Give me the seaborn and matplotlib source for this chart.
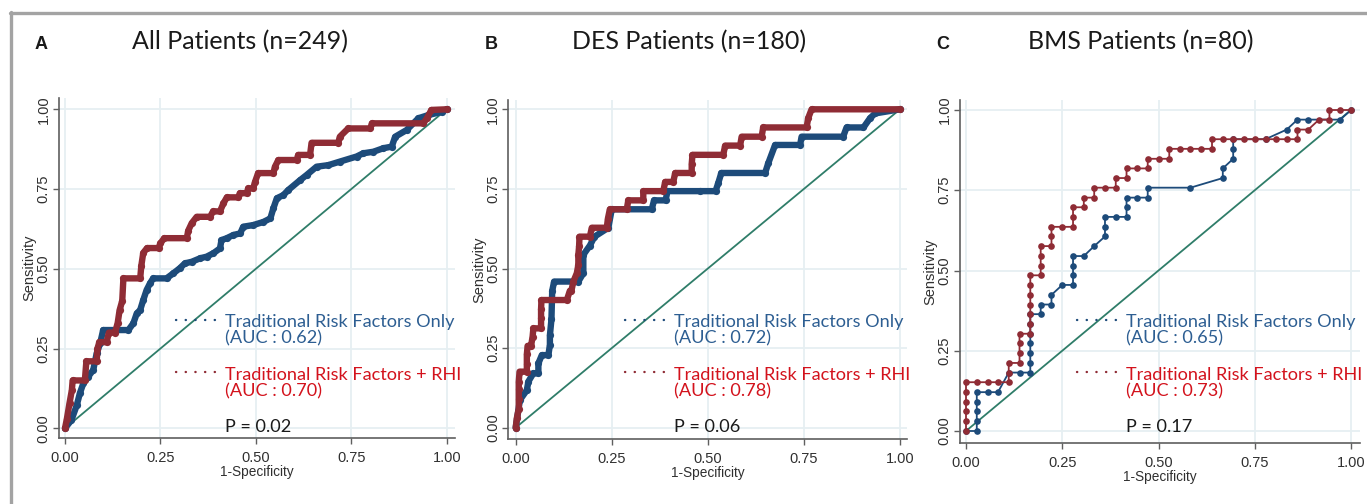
import matplotlib
matplotlib.use("Agg")
import matplotlib.pyplot as plt
import seaborn as sns
from matplotlib.lines import Line2D
from matplotlib.transforms import Bbox, TransformedBbox

# ---------------- data ----------------
panel_letters = ["A", "B", "C"]
panel_titles = ["All Patients (n=249)", "DES Patients (n=180)", "BMS Patients (n=80)"]
series_labels = ["Traditional Risk Factors Only", "Traditional Risk Factors + RHI"]
auc_trad = ["0.62", "0.72", "0.65"]
auc_rhi = ["0.70", "0.78", "0.73"]
p_values = ["0.02", "0.06", "0.17"]
tick_values = [0, 0.25, 0.5, 0.75, 1.0]
tick_labels = ["0.00", "0.25", "0.50", "0.75", "1.00"]
x_label = "1-Specificity"
y_label = "Sensitivity"
diag = [0, 1]

# Panel A: All patients
a_trad_x = [0, 0.017, 0.031, 0.039, 0.048, 0.061, 0.074, 0.083, 0.092, 0.1, 0.166, 0.179, 0.188, 0.197,
            0.205, 0.214, 0.223, 0.231, 0.266, 0.284, 0.301, 0.314, 0.332, 0.354, 0.371, 0.389, 0.406,
            0.41, 0.424, 0.441, 0.459, 0.467, 0.493, 0.52, 0.538, 0.546, 0.555, 0.572, 0.585, 0.616,
            0.633, 0.659, 0.69, 0.72, 0.764, 0.781, 0.808, 0.834, 0.856, 0.865, 0.895, 0.926, 0.952,
            0.987, 1.0]
a_trad_y = [0, 0.026, 0.073, 0.11, 0.141, 0.162, 0.183, 0.235, 0.266, 0.308, 0.308, 0.329, 0.36, 0.371,
            0.402, 0.434, 0.455, 0.47, 0.47, 0.486, 0.502, 0.517, 0.522, 0.533, 0.538, 0.549, 0.564,
            0.59, 0.596, 0.606, 0.611, 0.632, 0.637, 0.647, 0.658, 0.69, 0.721, 0.731, 0.747, 0.778,
            0.794, 0.82, 0.825, 0.836, 0.852, 0.862, 0.867, 0.878, 0.883, 0.914, 0.935, 0.972, 0.982,
            0.992, 1.0]
a_rhi_x = [0, 0.005, 0.012, 0.018, 0.02, 0.052, 0.056, 0.083, 0.085, 0.09, 0.109, 0.115, 0.131, 0.138,
           0.143, 0.15, 0.153, 0.197, 0.2, 0.205, 0.215, 0.245, 0.25, 0.26, 0.319, 0.323, 0.332, 0.345,
           0.38, 0.388, 0.406, 0.415, 0.424, 0.454, 0.458, 0.476, 0.48, 0.493, 0.498, 0.506, 0.546, 0.55,
           0.559, 0.607, 0.611, 0.642, 0.646, 0.716, 0.72, 0.742, 0.8, 0.804, 0.939, 0.948, 0.96, 1.0]
a_rhi_y = [0, 0.03, 0.08, 0.12, 0.15, 0.15, 0.21, 0.21, 0.25, 0.27, 0.27, 0.30, 0.30, 0.33, 0.37, 0.40,
           0.47, 0.47, 0.51, 0.55, 0.565, 0.565, 0.58, 0.596, 0.596, 0.62, 0.643, 0.663, 0.663, 0.68,
           0.68, 0.705, 0.724, 0.724, 0.737, 0.737, 0.752, 0.752, 0.773, 0.80, 0.80, 0.82, 0.841, 0.841,
           0.857, 0.857, 0.895, 0.895, 0.914, 0.94, 0.94, 0.956, 0.956, 0.972, 0.998, 1.0]

# Panel B: DES patients
b_trad_x = [0, 0.011, 0.029, 0.033, 0.046, 0.059, 0.059, 0.068, 0.085, 0.089, 0.089, 0.093, 0.095, 0.1,
            0.163, 0.176, 0.176, 0.193, 0.205, 0.241, 0.25, 0.354, 0.36, 0.39, 0.395, 0.48, 0.52, 0.527,
            0.535, 0.649, 0.657, 0.675, 0.74, 0.744, 0.852, 0.861, 0.905, 0.922, 0.935, 1.0]
b_trad_y = [0, 0.087, 0.118, 0.145, 0.171, 0.171, 0.202, 0.228, 0.228, 0.26, 0.29, 0.34, 0.43, 0.459,
            0.459, 0.485, 0.543, 0.572, 0.6, 0.628, 0.686, 0.686, 0.714, 0.714, 0.743, 0.743, 0.743,
            0.768, 0.8, 0.8, 0.83, 0.888, 0.888, 0.914, 0.914, 0.943, 0.943, 0.972, 0.987, 1.0]
b_rhi_x = [0, 0.003, 0.008, 0.008, 0.008, 0.008, 0.01, 0.029, 0.029, 0.029, 0.031, 0.04, 0.044, 0.046,
           0.066, 0.066, 0.066, 0.067, 0.133, 0.141, 0.145, 0.15, 0.159, 0.163, 0.163, 0.165, 0.166,
           0.193, 0.198, 0.237, 0.24, 0.245, 0.289, 0.293, 0.332, 0.332, 0.384, 0.389, 0.41, 0.415,
           0.458, 0.458, 0.46, 0.54, 0.545, 0.584, 0.588, 0.64, 0.644, 0.757, 0.761, 0.77, 1.0]
b_rhi_y = [0, 0.03, 0.06, 0.09, 0.12, 0.145, 0.176, 0.176, 0.2, 0.23, 0.257, 0.257, 0.286, 0.312,
           0.312, 0.343, 0.372, 0.401, 0.401, 0.43, 0.43, 0.459, 0.485, 0.511, 0.543, 0.57, 0.6,
           0.6, 0.628, 0.628, 0.657, 0.686, 0.686, 0.714, 0.714, 0.743, 0.743, 0.772, 0.772, 0.8,
           0.8, 0.828, 0.857, 0.857, 0.886, 0.886, 0.914, 0.914, 0.943, 0.943, 0.972, 1.0, 1.0]

# Panel C: BMS patients
c_trad_x = [0, 0.028, 0.028, 0.028, 0.028, 0.028, 0.056, 0.083, 0.111, 0.139, 0.167, 0.167, 0.167, 0.167,
            0.167, 0.167, 0.167, 0.194, 0.194, 0.222, 0.222, 0.25, 0.278, 0.278, 0.278, 0.278, 0.306,
            0.333, 0.361, 0.361, 0.361, 0.389, 0.417, 0.417, 0.417, 0.444, 0.472, 0.472, 0.583, 0.667,
            0.667, 0.694, 0.694, 0.694, 0.778, 0.833, 0.861, 0.889, 0.972, 1.0]
c_trad_y = [0, 0, 0.03, 0.061, 0.091, 0.121, 0.121, 0.121, 0.182, 0.182, 0.182, 0.212, 0.242, 0.273,
            0.303, 0.333, 0.364, 0.364, 0.394, 0.394, 0.424, 0.455, 0.455, 0.485, 0.515, 0.545, 0.545,
            0.576, 0.606, 0.636, 0.667, 0.667, 0.667, 0.697, 0.727, 0.727, 0.727, 0.758, 0.758, 0.788,
            0.818, 0.848, 0.879, 0.909, 0.909, 0.939, 0.97, 0.97, 0.97, 1.0]
c_rhi_x = [0, 0, 0, 0, 0, 0, 0.028, 0.056, 0.083, 0.111, 0.111, 0.111, 0.139, 0.139, 0.139, 0.139,
           0.167, 0.167, 0.167, 0.167, 0.167, 0.167, 0.167, 0.194, 0.194, 0.194, 0.194, 0.222, 0.222,
           0.222, 0.25, 0.278, 0.278, 0.278, 0.306, 0.306, 0.333, 0.333, 0.361, 0.389, 0.389, 0.417,
           0.417, 0.444, 0.472, 0.472, 0.5, 0.528, 0.528, 0.556, 0.583, 0.611, 0.639, 0.639, 0.667,
           0.694, 0.722, 0.75, 0.778, 0.806, 0.833, 0.861, 0.861, 0.889, 0.917, 0.944, 0.944, 0.972, 1.0]
c_rhi_y = [0, 0.03, 0.061, 0.091, 0.121, 0.152, 0.152, 0.152, 0.152, 0.152, 0.182, 0.212, 0.212, 0.242,
           0.273, 0.303, 0.303, 0.333, 0.364, 0.394, 0.424, 0.455, 0.485, 0.485, 0.515, 0.545, 0.576,
           0.576, 0.606, 0.636, 0.636, 0.636, 0.667, 0.697, 0.697, 0.727, 0.727, 0.758, 0.758, 0.758,
           0.788, 0.788, 0.818, 0.818, 0.818, 0.848, 0.848, 0.848, 0.879, 0.879, 0.879, 0.879, 0.879,
           0.909, 0.909, 0.909, 0.909, 0.909, 0.909, 0.909, 0.909, 0.909, 0.939, 0.939, 0.97, 0.97,
           1.0, 1.0, 1.0]

# ---------------- style ----------------
W, H = 1367, 504
BLUE = "#1d4b7a"
RED = "#8f2c35"
BLUE_TXT = "#2d5e92"
RED_TXT = "#d3121c"
DIAG = "#2f7d69"
GRID = "#e6eff2"
SPINE = "#5f5f5f"

sns.set_theme(style="white")
plt.rcParams["font.family"] = ["Liberation Sans", "DejaVu Sans"]

fig = plt.figure(figsize=(W / 100, H / 100), dpi=100)

def fx(px):
    return px / W

def fy(py):
    return 1 - py / H

# per-panel layout in pixels: (left spine, right end, bottom spine, top end, x0px, x1px, y0px, y1px)
layouts = [
    (59, 455, 438, 98, 65, 446.7, 428.3, 109.3),
    (508.3, 906.7, 438.7, 100, 515.7, 900, 427.7, 109.3),
    (960, 1359.5, 442.7, 100, 966, 1351, 431, 110),
]
data = [
    (a_trad_x, a_trad_y, a_rhi_x, a_rhi_y),
    (b_trad_x, b_trad_y, b_rhi_x, b_rhi_y),
    (c_trad_x, c_trad_y, c_rhi_x, c_rhi_y),
]

narrow = ["Liberation Sans Narrow", "Liberation Sans", "DejaVu Sans"]
title_font = ["Lato", "DejaVu Sans"]
LEG_FS = 13.1

for i in range(3):
    L, R, B, T, x0, x1, y0, y1 = layouts[i]
    ax = fig.add_axes([fx(L), fy(B), (R - L) / W, (B - T) / H])
    sx = x1 - x0
    sy = y0 - y1
    ax.set_xlim(-(x0 - L) / sx, 1 + (R - x1) / sx)
    ax.set_ylim(-(B - y0) / sy, 1 + (y1 - T) / sy)

    tx, ty, rx, ry = data[i]
    sns.lineplot(x=diag, y=diag, ax=ax, color=DIAG, lw=1.3, sort=False, estimator=None)
    dense = i < 2
    lw = 4.6 if dense else 1.3
    ms = 5.2 if dense else 4.8
    sns.lineplot(x=tx, y=ty, ax=ax, sort=False, estimator=None, color=BLUE, lw=lw,
                 marker="o", markersize=ms, markeredgewidth=0, solid_joinstyle="round",
                 solid_capstyle="round")
    sns.lineplot(x=rx, y=ry, ax=ax, sort=False, estimator=None, color=RED, lw=lw,
                 marker="o", markersize=ms, markeredgewidth=0, solid_joinstyle="round",
                 solid_capstyle="round")

    ax.set_xticks(tick_values)
    ax.set_yticks(tick_values)
    ax.set_xticklabels(tick_labels, fontsize=10.5, family=narrow, color="#303030")
    ax.set_yticklabels(tick_labels, fontsize=10.5, rotation=90, va="center", color="#303030")
    ax.tick_params(axis="both", direction="out", length=4.5, width=1.0, color=SPINE,
                   bottom=True, left=True)
    ax.tick_params(axis="x", pad=5)
    ax.tick_params(axis="y", pad=1.5)
    ax.grid(True, color=GRID, lw=1.3)
    ax.set_axisbelow(True)
    for s in ["top", "right"]:
        ax.spines[s].set_visible(False)
    for s in ["left", "bottom"]:
        ax.spines[s].set_color(SPINE)
        ax.spines[s].set_linewidth(1.2)
    ax.set_xlabel(x_label, fontsize=9.8, family=narrow, color="#303030", labelpad=0)
    ax.set_ylabel(y_label, fontsize=10.5, color="#303030", labelpad=0)

    # titles
    fig.text(fx(L - 24), fy(49), panel_letters[i], fontsize=13, fontweight="bold",
             color="#1a1a1a", ha="left", va="baseline")
    fig.text(fx(L + 181), fy(49), panel_titles[i], fontsize=18, family=title_font,
             color="#1a1a1a", ha="center", va="baseline")

    # legend-like annotations
    texts = []
    for (key_y, base1, label, auc, col_line, col_txt) in [
        (320, 326.7, series_labels[0], auc_trad[i], BLUE, BLUE_TXT),
        (372, 380, series_labels[1], auc_rhi[i], RED, RED_TXT),
    ]:
        fig.add_artist(Line2D([fx(L + 117), fx(L + 158)], [fy(key_y), fy(key_y)],
                              transform=fig.transFigure, color=col_line, lw=1.7,
                              ls=(0, (0.1, 4.0)), dash_capstyle="round"))
        texts.append(fig.text(fx(L + 166), fy(base1), label, fontsize=LEG_FS, family=title_font,
                              color=col_txt, ha="left", va="baseline"))
        texts.append(fig.text(fx(L + 166), fy(base1 + 16.5), "(AUC : " + auc + ")", fontsize=LEG_FS,
                              family=title_font, color=col_txt, ha="left", va="baseline"))
    texts.append(fig.text(fx(L + 166), fy(432), "P = " + p_values[i], fontsize=LEG_FS,
                          family=title_font, color="#1a1a1a", ha="left", va="baseline"))
    if i == 0:
        clip = TransformedBbox(Bbox([[0, 0], [460 / W, 1]]), fig.transFigure)
        for t in texts:
            t.set_clip_box(clip)
            t.set_clip_on(True)

# outer frame
fig.add_artist(Line2D([fx(10), fx(W)], [fy(13), fy(13)], transform=fig.transFigure,
                      color="#a3a3a3", lw=2.4))
fig.add_artist(Line2D([fx(10.5), fx(10.5)], [fy(12), fy(H)], transform=fig.transFigure,
                      color="#a3a3a3", lw=2.4))

fig.savefig("out.png", dpi=100, facecolor="white")
